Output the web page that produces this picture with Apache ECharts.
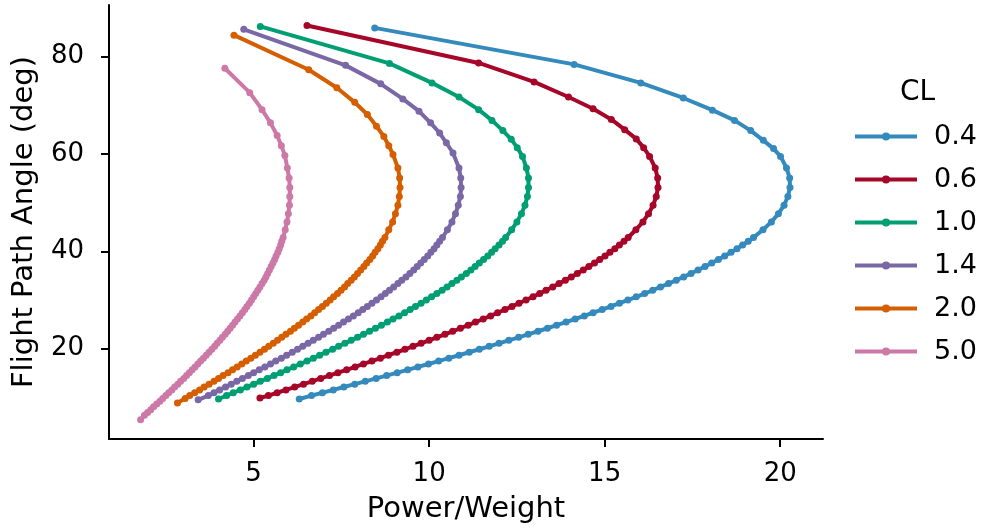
<!DOCTYPE html>
<html>
<head>
    <meta charset="utf-8"/>
    <title>Flight Path Angle vs Power/Weight</title>
    <script src="https://cdn.jsdelivr.net/npm/echarts@6/dist/echarts.min.js"></script>
    <style>
        html, body { margin: 0; padding: 0; background: #fff; }
        #main { width: 982px; height: 531px; }
    </style>
</head>
<body>
<div id="main"></div>
<script>
    // data: [power/weight, flight path angle]
    var clNames = ['0.4', '0.6', '1.0', '1.4', '2.0', '5.0'];
    var clColors = ['#348ABD', '#A60628', '#009E73', '#7A68A6', '#D55E00', '#CC79A7'];
    var xTicks = [5, 10, 15, 20];
    var yTicks = [20, 40, 60, 80];

    var cl04 = [[6.30, 9.66], [6.65, 10.37], [6.96, 10.95], [7.27, 11.54], [7.57, 12.12], [7.88, 12.71], [8.18, 13.30],
        [8.49, 13.89], [8.79, 14.48], [9.09, 15.07], [9.39, 15.66], [9.68, 16.26], [9.98, 16.86], [10.27, 17.46],
        [10.56, 18.06], [10.85, 18.66], [11.14, 19.27], [11.43, 19.88], [11.71, 20.49], [11.99, 21.10], [12.27, 21.72],
        [12.55, 22.33], [12.82, 22.95], [13.10, 23.58], [13.37, 24.20], [13.63, 24.83], [13.90, 25.47], [14.16, 26.10],
        [14.42, 26.74], [14.67, 27.39], [14.93, 28.03], [15.18, 28.69], [15.42, 29.34], [15.66, 30.00], [15.90, 30.66],
        [16.14, 31.33], [16.37, 32.01], [16.59, 32.68], [16.82, 33.37], [17.04, 34.06], [17.25, 34.75], [17.46, 35.45],
        [17.66, 36.16], [17.86, 36.87], [18.05, 37.59], [18.24, 38.32], [18.42, 39.05], [18.60, 39.79], [18.77, 40.54],
        [18.93, 41.30], [19.09, 42.07], [19.24, 42.84], [19.51, 44.43], [19.75, 46.05], [19.95, 47.73], [20.11, 49.46],
        [20.22, 51.26], [20.28, 53.13], [20.27, 55.08], [20.18, 57.14],
        [20.01, 59.5], [19.81, 61.1], [19.52, 62.8], [19.16, 64.8], [18.70, 66.9], [18.07, 69.0], [17.24, 71.5],
        [16.03, 74.6], [14.13, 78.4], [8.45, 85.9]];
    var cl06 = [[5.18, 9.87], [5.42, 10.37], [5.67, 10.95], [5.92, 11.54], [6.17, 12.12], [6.42, 12.71], [6.67, 13.30],
        [6.91, 13.89], [7.16, 14.48], [7.40, 15.07], [7.65, 15.66], [7.89, 16.26], [8.13, 16.86], [8.37, 17.46],
        [8.61, 18.06], [8.84, 18.66], [9.08, 19.27], [9.31, 19.88], [9.54, 20.49], [9.77, 21.10], [10.00, 21.72],
        [10.22, 22.33], [10.45, 22.95], [10.67, 23.58], [10.89, 24.20], [11.11, 24.83], [11.32, 25.47], [11.54, 26.10],
        [11.75, 26.74], [11.95, 27.39], [12.16, 28.03], [12.36, 28.69], [12.56, 29.34], [12.76, 30.00], [12.96, 30.66],
        [13.15, 31.33], [13.33, 32.01], [13.52, 32.68], [13.70, 33.37], [13.88, 34.06], [14.05, 34.75], [14.22, 35.45],
        [14.39, 36.16], [14.55, 36.87], [14.71, 37.59], [14.86, 38.32], [15.01, 39.05], [15.15, 39.79], [15.29, 40.54],
        [15.42, 41.30], [15.55, 42.07], [15.67, 42.84], [15.89, 44.43], [16.09, 46.05], [16.25, 47.73], [16.38, 49.46],
        [16.47, 51.26], [16.52, 53.13], [16.51, 55.08], [16.44, 57.14],
        [16.28, 59.5], [16.11, 61.3], [15.90, 63.1], [15.57, 65.0], [15.19, 67.1], [14.67, 69.3], [13.97, 71.7],
        [12.99, 74.8], [11.41, 78.7], [6.52, 86.4]];
    var cl10 = [[4.00, 9.66], [4.23, 10.37], [4.42, 10.95], [4.62, 11.54], [4.81, 12.12], [5.00, 12.71], [5.19, 13.30],
        [5.39, 13.89], [5.58, 14.48], [5.77, 15.07], [5.95, 15.66], [6.14, 16.26], [6.33, 16.86], [6.52, 17.46],
        [6.70, 18.06], [6.88, 18.66], [7.06, 19.27], [7.25, 19.88], [7.42, 20.49], [7.60, 21.10], [7.78, 21.72],
        [7.96, 22.33], [8.13, 22.95], [8.30, 23.58], [8.47, 24.20], [8.64, 24.83], [8.81, 25.47], [8.97, 26.10],
        [9.14, 26.74], [9.30, 27.39], [9.46, 28.03], [9.61, 28.69], [9.77, 29.34], [9.92, 30.00], [10.07, 30.66],
        [10.22, 31.33], [10.37, 32.01], [10.51, 32.68], [10.65, 33.37], [10.79, 34.06], [10.92, 34.75], [11.06, 35.45],
        [11.19, 36.16], [11.31, 36.87], [11.43, 37.59], [11.55, 38.32], [11.67, 39.05], [11.78, 39.79], [11.88, 40.54],
        [11.99, 41.30], [12.09, 42.07], [12.18, 42.84], [12.35, 44.43], [12.50, 46.05], [12.63, 47.73], [12.73, 49.46],
        [12.80, 51.26], [12.83, 53.13], [12.83, 55.08], [12.77, 57.14],
        [12.66, 59.5], [12.51, 61.3], [12.34, 63.0], [12.10, 64.8], [11.79, 66.9], [11.41, 69.1], [10.85, 71.7],
        [10.08, 74.6], [8.87, 78.6], [5.19, 86.2]];
    var cl14 = [[3.42, 9.5], [3.71, 10.37], [3.87, 10.95], [4.03, 11.54], [4.20, 12.12], [4.36, 12.71], [4.52, 13.30],
        [4.68, 13.89], [4.85, 14.48], [5.00, 15.07], [5.16, 15.66], [5.32, 16.26], [5.48, 16.86], [5.63, 17.46],
        [5.79, 18.06], [5.94, 18.66], [6.10, 19.27], [6.25, 19.88], [6.40, 20.49], [6.55, 21.10], [6.70, 21.72],
        [6.85, 22.33], [6.99, 22.95], [7.14, 23.58], [7.28, 24.20], [7.42, 24.83], [7.56, 25.47], [7.70, 26.10],
        [7.84, 26.74], [7.98, 27.39], [8.11, 28.03], [8.24, 28.69], [8.37, 29.34], [8.50, 30.00], [8.63, 30.66],
        [8.75, 31.33], [8.87, 32.01], [8.99, 32.68], [9.11, 33.37], [9.22, 34.06], [9.34, 34.75], [9.45, 35.45],
        [9.56, 36.16], [9.66, 36.87], [9.76, 37.59], [9.86, 38.32], [9.96, 39.05], [10.05, 39.79], [10.14, 40.54],
        [10.22, 41.30], [10.30, 42.07], [10.38, 42.84], [10.52, 44.43], [10.65, 46.05], [10.75, 47.73], [10.83, 49.46],
        [10.89, 51.26], [10.91, 53.13], [10.90, 55.08], [10.85, 57.14],
        [10.68, 60.2], [10.49, 62.3], [10.30, 64.3], [10.04, 66.4], [9.71, 68.8], [9.25, 71.3], [8.62, 74.4],
        [7.62, 78.2], [4.72, 85.6]];
    var cl20 = [[2.83, 8.84], [3.05, 9.79], [3.18, 10.37], [3.32, 10.95], [3.46, 11.54], [3.59, 12.12], [3.73, 12.71],
        [3.87, 13.30], [4.00, 13.89], [4.13, 14.48], [4.27, 15.07], [4.40, 15.66], [4.53, 16.26], [4.66, 16.86],
        [4.79, 17.46], [4.92, 18.06], [5.05, 18.66], [5.18, 19.27], [5.31, 19.88], [5.43, 20.49], [5.56, 21.10],
        [5.68, 21.72], [5.80, 22.33], [5.92, 22.95], [6.05, 23.58], [6.16, 24.20], [6.28, 24.83], [6.40, 25.47],
        [6.51, 26.10], [6.63, 26.74], [6.74, 27.39], [6.85, 28.03], [6.96, 28.69], [7.07, 29.34], [7.18, 30.00],
        [7.28, 30.66], [7.39, 31.33], [7.49, 32.01], [7.59, 32.68], [7.68, 33.37], [7.78, 34.06], [7.87, 34.75],
        [7.96, 35.45], [8.05, 36.16], [8.14, 36.87], [8.22, 37.59], [8.31, 38.32], [8.39, 39.05], [8.46, 39.79],
        [8.54, 40.54], [8.61, 41.30], [8.67, 42.07], [8.74, 42.84], [8.85, 44.43], [8.96, 46.05], [9.04, 47.73],
        [9.11, 49.46], [9.15, 51.26], [9.17, 53.13], [9.16, 55.08], [9.11, 57.14],
        [8.97, 59.9], [8.85, 61.7], [8.71, 63.6], [8.50, 65.7], [8.24, 68.1], [7.88, 70.6], [7.37, 73.6],
        [6.57, 77.3], [4.44, 84.4]];
    var cl50 = [[1.78, 5.4], [1.89, 6.32], [1.98, 6.89], [2.07, 7.47], [2.15, 8.05], [2.24, 8.63], [2.33, 9.21],
        [2.41, 9.79], [2.50, 10.37], [2.58, 10.95], [2.67, 11.54], [2.75, 12.12], [2.84, 12.71], [2.92, 13.30],
        [3.01, 13.89], [3.09, 14.48], [3.17, 15.07], [3.25, 15.66], [3.33, 16.26], [3.41, 16.86], [3.49, 17.46],
        [3.57, 18.06], [3.65, 18.66], [3.73, 19.27], [3.81, 19.88], [3.89, 20.49], [3.96, 21.10], [4.04, 21.72],
        [4.11, 22.33], [4.19, 22.95], [4.26, 23.58], [4.33, 24.20], [4.40, 24.83], [4.47, 25.47], [4.54, 26.10],
        [4.61, 26.74], [4.68, 27.39], [4.75, 28.03], [4.81, 28.69], [4.88, 29.34], [4.94, 30.00], [5.00, 30.66],
        [5.06, 31.33], [5.12, 32.01], [5.18, 32.68], [5.24, 33.37], [5.30, 34.06], [5.35, 34.75], [5.40, 35.45],
        [5.45, 36.16], [5.50, 36.87], [5.55, 37.59], [5.60, 38.32], [5.64, 39.05], [5.69, 39.79], [5.73, 40.54],
        [5.77, 41.30], [5.80, 42.07], [5.84, 42.84], [5.90, 44.43], [5.95, 46.05], [5.99, 47.73], [6.02, 49.46],
        [6.03, 51.26], [6.03, 53.13], [6.01, 55.08], [5.96, 57.14],
        [5.89, 59.7], [5.79, 61.7], [5.67, 63.8], [5.48, 66.4], [5.24, 69.1], [4.89, 72.6], [4.18, 77.6]];

    var curves = [cl04, cl06, cl10, cl14, cl20, cl50];

    var chart = echarts.init(document.getElementById('main'));
    var font = 'DejaVu Sans';

    var series = [];
    for (var i = 0; i < curves.length; i++) {
        series.push({
            name: clNames[i],
            type: 'line',
            data: curves[i],
            symbol: 'circle',
            symbolSize: 7,
            showSymbol: true,
            lineStyle: { width: 4, color: clColors[i] },
            itemStyle: { color: clColors[i] }
        });
    }

    var option = {
        animation: false,
        backgroundColor: '#fff',
        textStyle: { fontFamily: font, color: '#000' },
        title: {
            text: 'CL',
            left: 895,
            top: 74,
            textStyle: { fontFamily: font, fontSize: 28, fontWeight: 'normal', color: '#000' }
        },
        legend: {
            orient: 'vertical',
            left: 848,
            top: 118,
            itemWidth: 62,
            itemHeight: 10,
            itemGap: 16,
            data: clNames,
            lineStyle: { width: 4 },
            textStyle: { fontFamily: font, fontSize: 27, color: '#000', padding: [0, 0, 0, 12] }
        },
        grid: { left: 109, right: 159, top: 5, bottom: 92, containLabel: false },
        xAxis: {
            type: 'value',
            min: 0.88,
            max: 21.22,
            name: 'Power/Weight',
            nameLocation: 'middle',
            nameGap: 56,
            nameTextStyle: { fontFamily: font, fontSize: 29, color: '#000' },
            axisLine: { lineStyle: { color: '#000', width: 2 } },
            axisTick: { show: true, length: 8, lineStyle: { color: '#000', width: 2 }, customValues: xTicks },
            axisLabel: { fontSize: 26, color: '#000', margin: 22, customValues: xTicks },
            splitLine: { show: false }
        },
        yAxis: {
            type: 'value',
            min: 1.45,
            max: 90.6,
            name: 'Flight Path Angle (deg)',
            nameLocation: 'middle',
            nameRotate: 90,
            nameGap: 70,
            nameTextStyle: { fontFamily: font, fontSize: 29, color: '#000' },
            axisLine: { show: true, lineStyle: { color: '#000', width: 2 } },
            axisTick: { show: true, length: 8, lineStyle: { color: '#000', width: 2 }, customValues: yTicks },
            axisLabel: { fontSize: 26, color: '#000', margin: 25, customValues: yTicks },
            splitLine: { show: false }
        },
        series: series
    };
    chart.setOption(option);
</script>
</body>
</html>
